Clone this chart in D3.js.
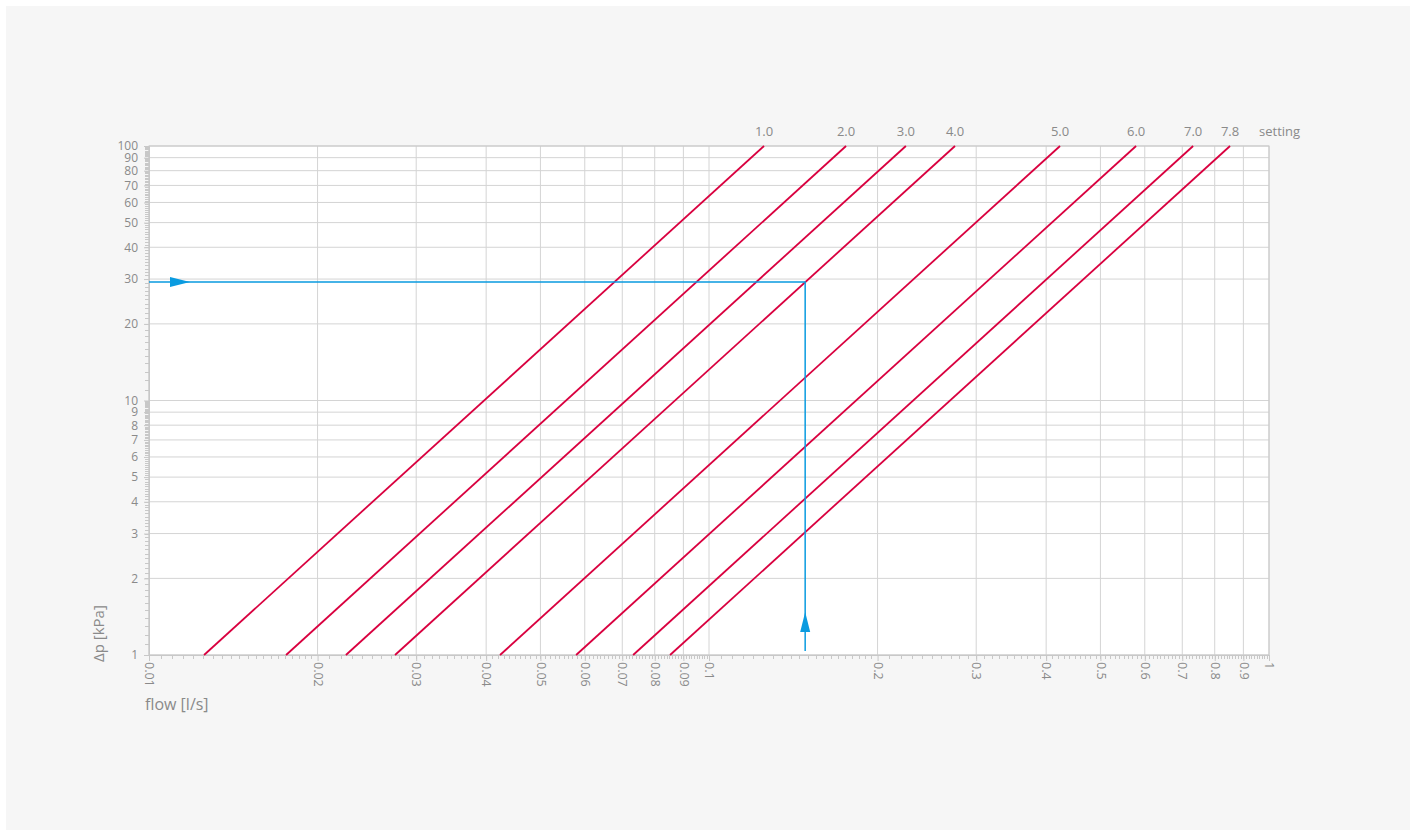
<!DOCTYPE html>
<html><head><meta charset="utf-8">
<script src="https://cdn.jsdelivr.net/npm/d3@7/dist/d3.min.js"></script>
<style>
html,body{margin:0;padding:0;background:#fff;}
svg{display:block;font-family:"Open Sans","Lato",sans-serif;}
</style></head>
<body>
<svg id="c" width="1416" height="834"></svg>
<script>
// settings of the valve
const settings = ["1.0","2.0","3.0","4.0","5.0","6.0","7.0","7.8"];
// flow [l/s] at Δp = 1 kPa and at Δp = 100 kPa for each setting
const flowAt1kPa   = [0.01254, 0.01757, 0.02247, 0.0275, 0.04235, 0.0579, 0.0732, 0.0852];
const flowAt100kPa = [0.1254, 0.1757, 0.2247, 0.275, 0.4235, 0.579, 0.732, 0.852];
// example reading
const exampleDp = 29.2;
const exampleFlow = 0.1485;
// tick labels
const xTickValues = [0.01,0.02,0.03,0.04,0.05,0.06,0.07,0.08,0.09,0.1,0.2,0.3,0.4,0.5,0.6,0.7,0.8,0.9,1];
const xTickLabels = ["0.01","0.02","0.03","0.04","0.05","0.06","0.07","0.08","0.09","0.1","0.2","0.3","0.4","0.5","0.6","0.7","0.8","0.9","1"];
const yTickValues = [1,2,3,4,5,6,7,8,9,10,20,30,40,50,60,70,80,90,100];
const yTickLabels = ["1","2","3","4","5","6","7","8","9","10","20","30","40","50","60","70","80","90","100"];

const svg = d3.select("#c");
svg.append("rect").attr("x",6).attr("y",6).attr("width",1404).attr("height",824).attr("fill","#f6f6f6");

const L=149, R=1269, T=146, B=655;
const x = d3.scaleLog().domain([0.01,1]).range([L,R]);
const y = d3.scaleLog().domain([1,100]).range([B,T]);

svg.append("rect").attr("x",L).attr("y",T).attr("width",R-L).attr("height",B-T).attr("fill","#fff");

const grid = "#d4d4d4", txt="#8a8a8a";
const font = "Open Sans, Lato, sans-serif";

// grid
svg.append("g").selectAll("line").data(xTickValues).join("line")
  .attr("x1",d=>x(d)).attr("x2",d=>x(d)).attr("y1",T).attr("y2",B)
  .attr("stroke",grid).attr("stroke-width",1);
svg.append("g").selectAll("line").data(yTickValues).join("line")
  .attr("x1",L).attr("x2",R).attr("y1",d=>y(d)).attr("y2",d=>y(d))
  .attr("stroke",grid).attr("stroke-width",1);

// minor ticks
const xMinor=[];
for(let v=0.0105; v<0.02; v+=0.0005) xMinor.push(v);
for(let v=0.021; v<0.1; v+=0.001) xMinor.push(v);
for(let v=0.105; v<0.2; v+=0.005) xMinor.push(v);
for(let v=0.21; v<1; v+=0.01) xMinor.push(v);
svg.append("g").selectAll("line").data(xMinor).join("line")
  .attr("x1",d=>Math.round(x(d))+0.5).attr("x2",d=>Math.round(x(d))+0.5).attr("y1",B).attr("y2",B+4)
  .attr("stroke","#c8c8c8").attr("stroke-width",1);
const yMinor=[];
for(let v=1.1; v<10; v+=0.1) yMinor.push(v);
for(let v=11; v<100; v+=1) yMinor.push(v);
svg.append("g").selectAll("line").data(yMinor).join("line")
  .attr("x1",L-4).attr("x2",L).attr("y1",d=>Math.round(y(d))+0.5).attr("y2",d=>Math.round(y(d))+0.5)
  .attr("stroke","#c8c8c8").attr("stroke-width",1);

// axes via d3
const xAxis = d3.axisBottom(x).tickValues(xTickValues).tickSize(6).tickFormat((d,i)=>xTickLabels[i]);
const gx = svg.append("g").attr("transform",`translate(0,${B})`).call(xAxis);
gx.select(".domain").attr("stroke","#c8c8c8");
gx.selectAll(".tick line").attr("stroke","#c8c8c8");
gx.selectAll(".tick text").attr("fill",txt).attr("font-size",12.5).attr("font-family",font)
  .attr("transform","rotate(90)").attr("x",7).attr("y",0).attr("dy","0.35em").attr("text-anchor","start");

const yAxis = d3.axisLeft(y).tickValues(yTickValues).tickSize(5).tickFormat((d,i)=>yTickLabels[i]);
const gy = svg.append("g").attr("transform",`translate(${L},0)`).call(yAxis);
gy.select(".domain").attr("stroke","#c8c8c8");
gy.selectAll(".tick line").attr("stroke","#c8c8c8");
gy.selectAll(".tick text").attr("fill",txt).attr("font-size",12).attr("font-family",font).attr("x",-11);

// border
svg.append("rect").attr("x",L).attr("y",T).attr("width",R-L).attr("height",B-T)
  .attr("fill","none").attr("stroke","#c8c8c8");

// setting lines
const lines = settings.map((s,i)=>({s, pts:[[flowAt1kPa[i],1],[flowAt100kPa[i],100]]}));
const lg = d3.line().x(d=>x(d[0])).y(d=>y(d[1]));
svg.append("g").selectAll("path").data(lines).join("path")
  .attr("d",d=>lg(d.pts)).attr("fill","none").attr("stroke","#d9003f").attr("stroke-width",1.8);
svg.append("g").selectAll("text").data(lines).join("text")
  .attr("x",d=>x(d.pts[1][0])).attr("y",T-10).attr("text-anchor","middle")
  .attr("fill",txt).attr("font-size",13).text(d=>d.s);
svg.append("text").attr("x",1259).attr("y",T-10).attr("fill",txt).attr("font-size",13).text("setting");

// example
const blue="#0a9be0";
const ex = x(exampleFlow), ey = y(exampleDp);
svg.append("path").attr("d",`M${L},${ey}H${ex}V${B-4}`).attr("fill","none").attr("stroke",blue).attr("stroke-width",1.5);
svg.append("path").attr("d",`M${L+21},${ey-5}L${L+41},${ey}L${L+21},${ey+5}Z`).attr("fill",blue);
svg.append("path").attr("d",`M${ex-5},${B-23}L${ex},${B-43}L${ex+5},${B-23}Z`).attr("fill",blue);

// axis titles
svg.append("text").attr("transform",`translate(104,662) rotate(-90)`).attr("fill",txt)
  .attr("font-size",15).text("Δp [kPa]");
svg.append("text").attr("x",145).attr("y",710).attr("fill",txt).attr("font-size",16).text("flow [l/s]");
</script>
</body></html>
